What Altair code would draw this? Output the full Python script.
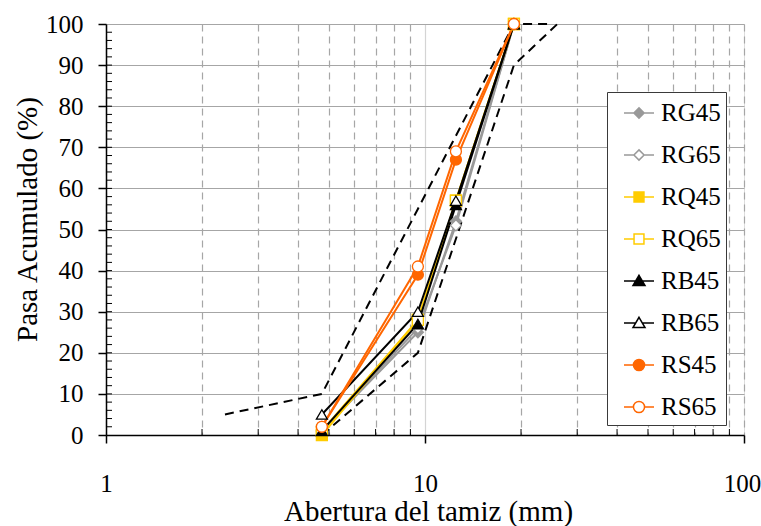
import altair as alt
import pandas as pd

# ---------------- data ----------------
sieve_mm = [4.75, 9.5, 12.5, 19.0]
series_names = ["RG45", "RG65", "RQ45", "RQ65", "RB45", "RB65", "RS45", "RS65"]
RG45 = [1, 25, 52, 100]
RG65 = [1, 26, 51, 100]
RQ45 = [0, 28, 57, 100]
RQ65 = [1, 28, 57, 100]
RB45 = [1, 27, 56, 100]
RB65 = [5, 30, 57, 100]
RS45 = [2, 39, 67, 100]
RS65 = [2, 41, 69, 100]

upper_limit_x = [2.36, 4.75, 9.5, 19.0, 25.0]
upper_limit_y = [5, 10, 55, 100, 100]
lower_limit_x = [4.75, 9.5, 19.0, 26.0]
lower_limit_y = [0, 20, 90, 100]

x_axis_values = [1, 2, 3, 4, 5, 6, 7, 8, 9, 10, 20, 30, 40, 50, 60, 70, 80, 90, 100]
x_minor_ticks = [2, 3, 4, 5, 6, 7, 8, 9, 20, 30, 40, 50, 60, 70, 80, 90]
y_axis_values = [0, 10, 20, 30, 40, 50, 60, 70, 80, 90, 100]
y_minor_ticks = list(range(2, 100, 2))

# ---------------- styles ----------------
stroke_colors = ["#999999", "#999999", "#FFCC00", "#FFCC00",
                 "#000000", "#000000", "#FF6600", "#FF6600"]
fill_colors = ["#999999", "#FFFFFF", "#FFCC00", "#FFFFFF",
               "#000000", "#FFFFFF", "#FF6600", "#FFFFFF"]
marker_shapes = ["diamond", "diamond", "square", "square",
                 "triangle-up", "triangle-up", "circle", "circle"]
P_DIAMOND = "M-1,0H-0.34M0,-0.34L0.34,0L0,0.34L-0.34,0ZM0.34,0H1"
P_SQUARE = "M-1,0H-0.33M-0.33,-0.33H0.33V0.33H-0.33ZM0.33,0H1"
P_TRIANGLE = "M-1,0H-0.22M0,-0.38L0.4,0.3L-0.4,0.3ZM0.22,0H1"
P_CIRCLE = "M-1,0H-0.37M0.37,0A0.37,0.37 0 1,1 -0.37,0A0.37,0.37 0 1,1 0.37,0ZM0.37,0H1"
legend_shapes = [P_DIAMOND, P_DIAMOND, P_SQUARE, P_SQUARE,
                 P_TRIANGLE, P_TRIANGLE, P_CIRCLE, P_CIRCLE]

FONT = "Liberation Serif, Times New Roman, Times, serif"
W, H = 638, 411

series_values = {"RG45": RG45, "RG65": RG65, "RQ45": RQ45, "RQ65": RQ65,
                 "RB45": RB45, "RB65": RB65, "RS45": RS45, "RS65": RS65}
rows = []
for name in series_names:
    for xv, yv in zip(sieve_mm, series_values[name]):
        rows.append({"series": name, "abertura": xv, "pasa": yv})
df = pd.DataFrame(rows)

limits = pd.DataFrame(
    [{"limit": "upper", "abertura": a, "pasa": b} for a, b in zip(upper_limit_x, upper_limit_y)]
    + [{"limit": "lower", "abertura": a, "pasa": b} for a, b in zip(lower_limit_x, lower_limit_y)]
)

is_major = "datum.value == 1 || datum.value == 10 || datum.value == 100"
x_scale = alt.Scale(type="log", domain=[1, 100], nice=False)
y_scale = alt.Scale(domain=[0, 100], nice=False)

x_enc = alt.X(
    "abertura:Q", scale=x_scale,
    axis=alt.Axis(
        values=x_axis_values,
        title="Abertura del tamiz (mm)",
        labelExpr="(" + is_major + ") ? format(datum.value, 'd') : ''",
        labelFont=FONT, labelFontSize=25, labelColor="black",
        labelBaseline="alphabetic", labelPadding=48, labelFlush=False,
        labelOverlap=False,
        labelOffset={"condition": {"test": "datum.value == 100", "value": -2}, "value": 0},
        tickSize=8, tickWidth=1.5,
        tickColor={"condition": {"test": is_major, "value": "black"}, "value": "transparent"},
        grid=True,
        gridColor={"condition": {"test": "datum.value == 10", "value": "#d4d4d4"}, "value": "#a6a6a6"},
        gridDash={"condition": {"test": "datum.value == 10", "value": [1, 0]}, "value": [7, 5]},
        gridWidth=1.2,
        domainColor="black", domainWidth=1.5,
        titleFont=FONT, titleFontSize=29, titleFontWeight="normal", titleColor="black",
        titleX=322, titleY=85, titleBaseline="alphabetic", titleAlign="center",
    ),
)
y_enc = alt.Y(
    "pasa:Q", scale=y_scale,
    axis=alt.Axis(
        values=y_axis_values,
        title="Pasa Acumulado (%)",
        labelFont=FONT, labelFontSize=25, labelColor="black", labelPadding=15,
        labelFlush=False, labelOverlap=False,
        tickSize=8, tickWidth=1.5, tickColor="black",
        grid=True, gridColor="#a6a6a6", gridWidth=1.2,
        domainColor="black", domainWidth=1.5,
        titleFont=FONT, titleFontSize=29, titleFontWeight="normal", titleColor="black",
        titleX=-79, titleY=195, titleBaseline="middle", titleAlign="center", titleAngle=270,
    ),
)

limit_layer = alt.Chart(limits).mark_line(
    color="black", strokeWidth=2, strokeDash=[9, 6]
).encode(x=x_enc, y=y_enc, detail="limit:N", order="abertura:Q")

line_layer = alt.Chart(df).mark_line(strokeWidth=2).encode(
    x="abertura:Q", y="pasa:Q",
    stroke=alt.Stroke("series:N", scale=alt.Scale(domain=series_names, range=stroke_colors), legend=None),
    order="abertura:Q",
)

point_layer = alt.Chart(df).mark_point(opacity=1, strokeWidth=1.3, size=120).encode(
    x="abertura:Q", y="pasa:Q",
    shape=alt.Shape("series:N", scale=alt.Scale(domain=series_names, range=marker_shapes), legend=None),
    fill=alt.Fill("series:N", scale=alt.Scale(domain=series_names, range=fill_colors), legend=None),
    stroke=alt.Stroke("series:N", scale=alt.Scale(domain=series_names, range=stroke_colors), legend=None),
)

x_minor = alt.Chart(pd.DataFrame({"t": x_minor_ticks})).mark_rule(
    color="black", strokeWidth=1
).encode(x=alt.X("t:Q"), y=alt.value(H), y2=alt.value(H - 6))

y_minor = alt.Chart(pd.DataFrame({"t": y_minor_ticks})).mark_rule(
    color="black", strokeWidth=1
).encode(y=alt.Y("t:Q"), x=alt.value(0), x2=alt.value(6))

legend_cfg = alt.Legend(
    title=None, orient="none", legendX=501, legendY=68,
    labelFont=FONT, labelFontSize=25, labelColor="black",
    symbolSize=900, symbolStrokeWidth=1.5, symbolOffset=11, labelOffset=6,
    rowPadding=13, padding=5,
    strokeColor="#3a3a3a", fillColor="white",
)
legend_layer = alt.Chart(df).transform_filter("datum.pasa < -1000").mark_point(
    opacity=1, size=900, strokeWidth=1.5
).encode(
    shape=alt.Shape("series:N", scale=alt.Scale(domain=series_names, range=legend_shapes), legend=legend_cfg),
    fill=alt.Fill("series:N", scale=alt.Scale(domain=series_names, range=fill_colors), legend=legend_cfg),
    stroke=alt.Stroke("series:N", scale=alt.Scale(domain=series_names, range=stroke_colors), legend=legend_cfg),
)

chart = alt.layer(
    limit_layer, line_layer, point_layer, x_minor, y_minor, legend_layer
).resolve_scale(
    shape="independent", fill="independent", stroke="independent"
).properties(
    width=W, height=H,
    autosize=alt.AutoSizeParams(type="none"),
    padding={"left": 106, "top": 24, "right": 17, "bottom": 91},
).configure_view(
    stroke="black", strokeWidth=1.5
).configure(background="white", font=FONT)

chart.save("out.html", embed_options={"renderer": "svg", "actions": False})
